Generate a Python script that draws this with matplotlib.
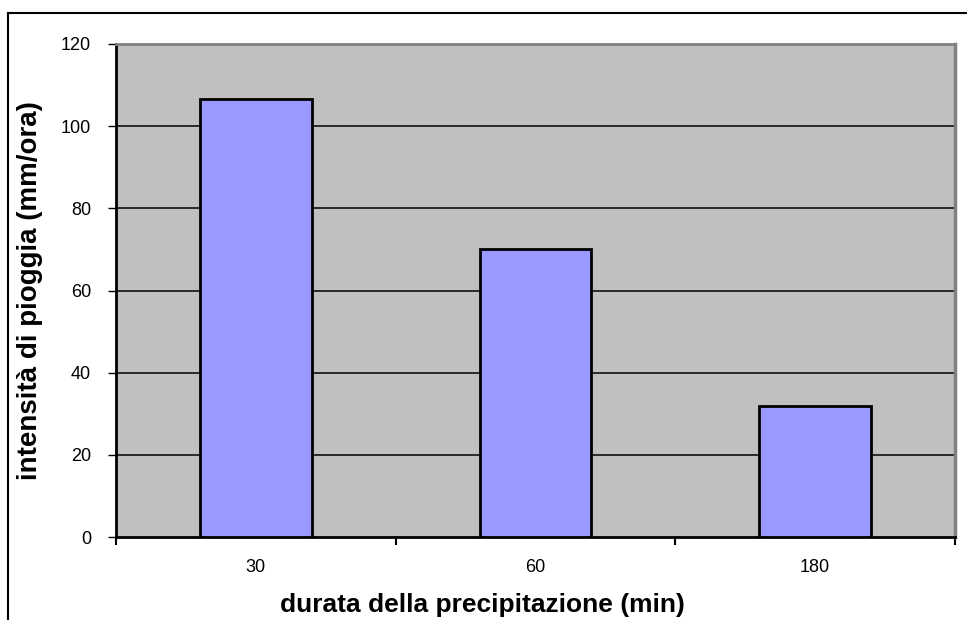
import numpy as np
import matplotlib.pyplot as plt
from matplotlib.lines import Line2D

# durata della precipitazione (min) vs intensita di pioggia (mm/ora)
categories = ["30", "60", "180"]
intensity = [106.5, 70, 32]
y_ticks = [0, 20, 40, 60, 80, 100, 120]

plt.rcParams["font.family"] = ["Liberation Sans", "DejaVu Sans"]

fig = plt.figure(figsize=(9.67, 6.2), dpi=100)
W, H = 967, 620
ax = fig.add_axes([116 / W, 1 - 537 / H, (955 - 116) / W, (537 - 44) / H])

x = np.arange(len(categories))
ax.set_facecolor("#C0C0C0")
ax.set_xlim(-0.5, len(categories) - 0.5)
ax.set_ylim(0, 120)

# gridlines
for t in y_ticks[1:-1]:
    ax.axhline(t, color="black", lw=1.1, zorder=1)

ax.bar(x, intensity, width=0.4, color="#9999FF", edgecolor="black",
       linewidth=2, zorder=3)

ax.spines["top"].set_color("#808080")
ax.spines["right"].set_color("#808080")
ax.spines["top"].set_linewidth(2)
ax.spines["right"].set_linewidth(2.5)
ax.spines["left"].set_linewidth(2)
ax.spines["bottom"].set_linewidth(2)

ax.set_yticks(y_ticks)
ax.set_yticklabels([str(v) for v in y_ticks], fontsize=13)
ax.tick_params(axis="y", length=6, width=1, pad=12)

# category labels centred, ticks at boundaries
ax.set_xticks(np.arange(len(categories) + 1) - 0.5)
ax.set_xticklabels([""] * (len(categories) + 1))
ax.tick_params(axis="x", length=6, width=1.5, direction="out")
ax.set_xticks(x, minor=True)
ax.set_xticklabels(categories, minor=True, fontsize=13)
ax.tick_params(axis="x", which="minor", length=0, pad=16)

ax.set_xlabel("durata della precipitazione (min)", fontsize=19,
              fontweight="bold")
ax.set_ylabel("intensità di pioggia (mm/ora)", fontsize=20,
              fontweight="bold")
ax.xaxis.set_label_coords((482 - 116) / 839, -(605 - 537) / 493)
ax.yaxis.set_label_coords(-(116 - 30) / 839, 0.5)
ax.xaxis.label.set_va("center")
ax.yaxis.label.set_va("center")

# outer chart border
fig.add_artist(Line2D([8 / W, 1], [1 - 13 / H, 1 - 13 / H], color="black", lw=1.5))
fig.add_artist(Line2D([8 / W, 8 / W], [0, 1 - 13 / H], color="black", lw=1.5))

fig.savefig("out.png", dpi=100)
